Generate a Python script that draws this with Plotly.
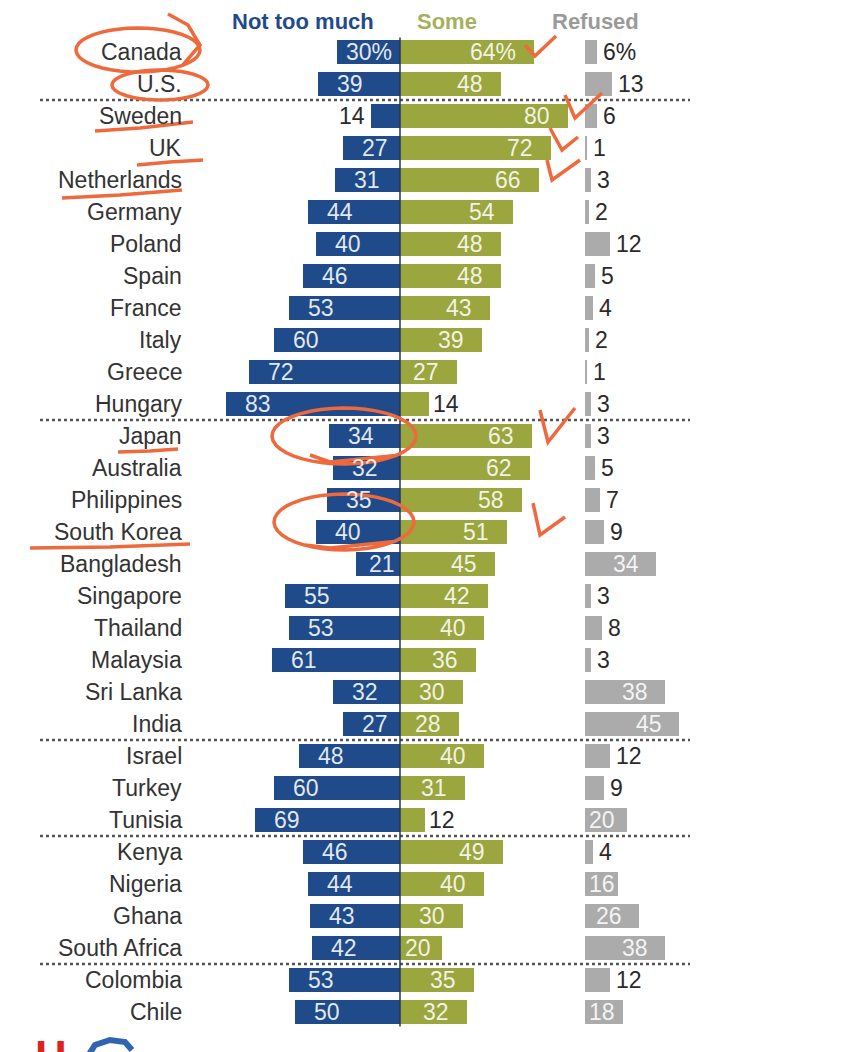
import math
import plotly.graph_objects as go

countries = ["Canada", "U.S.", "Sweden", "UK", "Netherlands", "Germany", "Poland", "Spain",
             "France", "Italy", "Greece", "Hungary", "Japan", "Australia", "Philippines",
             "South Korea", "Bangladesh", "Singapore", "Thailand", "Malaysia", "Sri Lanka",
             "India", "Israel", "Turkey", "Tunisia", "Kenya", "Nigeria", "Ghana",
             "South Africa", "Colombia", "Chile"]
not_too_much = [30, 39, 14, 27, 31, 44, 40, 46, 53, 60, 72, 83, 34, 32, 35, 40, 21, 55, 53,
                61, 32, 27, 48, 60, 69, 46, 44, 43, 42, 53, 50]
some = [64, 48, 80, 72, 66, 54, 48, 48, 43, 39, 27, 14, 63, 62, 58, 51, 45, 42, 40, 36, 30,
        28, 40, 31, 12, 49, 40, 30, 20, 35, 32]
refused = [6, 13, 6, 1, 3, 2, 12, 5, 4, 2, 1, 3, 3, 5, 7, 9, 34, 3, 8, 3, 38, 45, 12, 9, 20,
           4, 16, 26, 38, 12, 18]
headers = ["Not too much", "Some", "Refused"]
group_breaks = [1.5, 11.5, 21.5, 24.5, 28.5]

NAVY = "#1f4b8a"
OLIVE = "#9ba63e"
GRAY = "#ababab"
ORANGE = "#ee6a3c"
FONT = "Liberation Sans, Arial, sans-serif"

PX = 2.1            # pixels per percentage point
CX = 400            # screen pixel x of zero line
REF_BASE = 88       # offset of refused bars (in points)
OFF = 8             # page body margin
W, H = 841 - OFF, 1052 - OFF


def X(px):
    return (px - CX) / PX


def Y(py):
    return (py - 52) / 32


n = len(countries)
yy = list(range(n))

fig = go.Figure()
fig.add_trace(go.Bar(y=yy, x=[-v for v in not_too_much], orientation="h",
                     marker=dict(color=NAVY, line_width=0), width=0.74, hoverinfo="skip"))
fig.add_trace(go.Bar(y=yy, x=some, orientation="h",
                     marker=dict(color=OLIVE, line_width=0), width=0.74, hoverinfo="skip"))
fig.add_trace(go.Bar(y=yy, x=refused, base=[REF_BASE] * n, orientation="h",
                     marker=dict(color=GRAY, line_width=0), width=0.74, hoverinfo="skip"))
fig.update_layout(barmode="overlay")

ann = []
FS = 23
lab_font = dict(family=FONT, size=FS)
inside_col = "rgba(255,255,255,0.88)"
dark = "#2a2a2a"
for i in range(n):
    suf = "%" if i == 0 else ""
    ann.append(dict(x=X(184), y=i, text=countries[i], xanchor="right", showarrow=False,
                    font=dict(family=FONT, size=FS, color="#333333")))
    # not too much
    v = not_too_much[i]
    t = f"{v}{suf}"
    if v < 20:
        ann.append(dict(x=-v, y=i, text=t, xanchor="right", xshift=-4,
                        showarrow=False, font=dict(lab_font, color=dark)))
    elif v < 24:
        ann.append(dict(x=0, y=i, text=t, xanchor="right", xshift=-3,
                        showarrow=False, font=dict(lab_font, color=inside_col)))
    else:
        ann.append(dict(x=-v, y=i, text=t, xanchor="center", xshift=32,
                        showarrow=False, font=dict(lab_font, color=inside_col)))
    # some
    v = some[i]
    t = f"{v}{suf}"
    if v < 20:
        ann.append(dict(x=v, y=i, text=t, xanchor="left", xshift=2,
                        showarrow=False, font=dict(lab_font, color=dark)))
    elif v < 22:
        ann.append(dict(x=0, y=i, text=t, xanchor="left", xshift=3,
                        showarrow=False, font=dict(lab_font, color=inside_col)))
    else:
        ann.append(dict(x=v, y=i, text=t, xanchor="right", xshift=-16,
                        showarrow=False, font=dict(lab_font, color=inside_col)))
    # refused
    v = refused[i]
    t = f"{v}{suf}"
    if v < 15:
        ann.append(dict(x=REF_BASE + v, y=i, text=t, xanchor="left", xshift=4,
                        showarrow=False, font=dict(lab_font, color=dark)))
    elif v < 22:
        ann.append(dict(x=REF_BASE, y=i, text=t, xanchor="left", xshift=2,
                        showarrow=False, font=dict(lab_font, color=inside_col)))
    else:
        ann.append(dict(x=REF_BASE + v, y=i, text=t, xanchor="right", xshift=-15,
                        showarrow=False, font=dict(lab_font, color=inside_col)))

head_cols = [NAVY, "#a7b05c", "#9a9a9a"]
head_x = [X(303), X(447), X(595)]
for t, c, hx in zip(headers, head_cols, head_x):
    ann.append(dict(x=hx, y=1, yref="paper", yanchor="top", borderpad=0,
                    text=f"<b>{t}</b>", xanchor="center", showarrow=False,
                    font=dict(family=FONT, size=22, color=c)))

# cropped logo at the bottom
ann.append(dict(x=X(33), y=Y(1030), text="<b>H</b>", xanchor="left", yanchor="top",
                showarrow=False, font=dict(family=FONT, size=44, color="#e0201b")))

shapes = []
for b in group_breaks:
    shapes.append(dict(type="line", x0=X(40), x1=X(690), y0=b, y1=b, xref="x", yref="y",
                       line=dict(color="#555555", width=2.5, dash="dot")))
shapes.append(dict(type="line", x0=0, x1=0, y0=-0.45, y1=n - 0.55, xref="x", yref="y",
                   line=dict(color="#2a3550", width=1.5)))


def path(points, closed=False):
    s = "M " + " L ".join(f"{X(a):.3f},{Y(b):.3f}" for a, b in points)
    return s + (" Z" if closed else "")


def ell(cx, cy, rx, ry, tail=None):
    pts = [(cx + rx * math.cos(k / 40 * 2 * math.pi + 0.3),
            cy + ry * math.sin(k / 40 * 2 * math.pi + 0.3)) for k in range(44)]
    if tail:
        pts += tail
    return path(pts)


orange = dict(color=ORANGE, width=3.5)
scribbles = [
    ell(138, 50, 62, 22, tail=[(200, 45), (188, 25), (168, 14)]),
    ell(160, 85, 48, 15),
    path([(95, 131), (140, 128), (193, 122)]),
    path([(137, 165), (170, 162), (203, 160)]),
    path([(62, 198), (120, 195), (182, 190)]),
    path([(118, 452), (150, 451), (178, 449)]),
    path([(30, 548), (110, 547), (190, 544)]),
    path([(525, 45), (535, 56), (556, 36)]),
    path([(565, 95), (575, 118), (602, 93)]),
    path([(550, 128), (562, 150), (578, 137)]),
    path([(547, 160), (552, 180), (580, 160)]),
    path([(540, 410), (548, 442), (575, 408)]),
    path([(533, 503), (540, 535), (565, 517)]),
    ell(344, 436, 72, 28, tail=[(330, 462), (310, 455)]),
    ell(344, 522, 70, 28, tail=[(330, 548), (305, 545)]),
]
for s in scribbles:
    shapes.append(dict(type="path", path=s, xref="x", yref="y", line=orange))

# blue arc of the cropped logo
shapes.append(dict(type="path", xref="x", yref="y",
                   path=path([(88, 1056), (95, 1045), (110, 1040), (125, 1042), (132, 1050)]),
                   line=dict(color="#2f64b0", width=6)))

fig.update_layout(
    width=W, height=H,
    margin=dict(l=0, r=0, t=0, b=0),
    paper_bgcolor="white", plot_bgcolor="white",
    showlegend=False,
    xaxis=dict(range=[X(OFF), X(OFF + W)], visible=False, fixedrange=True),
    yaxis=dict(range=[Y(OFF + H), Y(OFF)], visible=False, fixedrange=True),
    annotations=ann, shapes=shapes,
    bargap=0,
)
fig.write_html("out.html")
